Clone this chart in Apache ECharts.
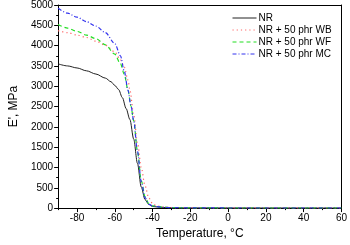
<!DOCTYPE html>
<html>
<head>
<meta charset="utf-8">
<script src="https://cdn.jsdelivr.net/npm/echarts@6/dist/echarts.min.js"></script>
<style>
  html, body { margin: 0; padding: 0; background: #fff; }
  #chart { width: 350px; height: 245px; }
</style>
</head>
<body>
<div id="chart"></div>
<script>
// temperature (°C) and storage modulus E' (MPa)
const tempNR = [-90, -85, -80, -75, -70, -65, -62, -60, -58, -56, -54, -52, -50, -48, -46, -44, -42, -40, -35, -30, -20, 0, 20, 40, 60]
const nr = [3550, 3500, 3450, 3380, 3300, 3200, 3110, 3020, 2920, 2720, 2450, 2180, 1700, 1100, 520, 210, 90, 40, 15, 10, 5, 3, 2, 2, 2]

const tempWB = [-90, -85, -80, -75, -70, -65, -60, -57, -55, -53, -52, -50, -48, -46, -44, -42, -40, -38, -35, -30, -20, 0, 20, 40, 60]
const wb = [4370, 4320, 4260, 4200, 4110, 4010, 3850, 3650, 3470, 3150, 2900, 2300, 1600, 1000, 550, 250, 110, 60, 30, 15, 8, 5, 4, 3, 3]

const tempWF = [-90, -85, -80, -75, -70, -65, -60, -57, -55, -53, -51.5, -50, -48, -46, -44, -42, -40, -35, -30, -20, 0, 20, 40, 60]
const wf = [4520, 4430, 4350, 4260, 4170, 4020, 3790, 3550, 3300, 2900, 2520, 2150, 1400, 680, 280, 110, 55, 25, 12, 6, 3, 3, 3, 3]

const tempMC = [-90, -85, -80, -75, -70, -65, -60, -57, -55, -53, -51.5, -50, -48, -46, -44, -42, -40, -35, -30, -20, 0, 20, 40, 60]
const mc = [4920, 4800, 4700, 4590, 4480, 4320, 4050, 3750, 3370, 2900, 2540, 2150, 1400, 650, 260, 100, 50, 20, 10, 5, 3, 3, 3, 3]

const xLabels = [-80, -60, -40, -20, 0, 20, 40, 60]
const xMinor = [-90, -70, -50, -30, -10, 10, 30, 50]

const names = ['NR', 'NR + 50 phr WB', 'NR + 50 phr WF', 'NR + 50 phr MC']

const pair = (xs, ys) => xs.map((x, i) => [x, ys[i]])

const chart = echarts.init(document.getElementById('chart'))

const tickFont = { color: '#000', fontSize: 10, fontFamily: '"Liberation Sans Narrow", "Liberation Sans", Arial, sans-serif' }

const option = {
  animation: false,
  textStyle: { fontFamily: '"Liberation Sans", Arial, sans-serif' },
  grid: { left: 46, right: 6, top: 4, bottom: 33 },
  legend: {
    data: names,
    orient: 'vertical',
    left: 227,
    top: 8,
    itemWidth: 24,
    itemHeight: 8,
    itemGap: 2,
    itemStyle: { opacity: 0 },
    lineStyle: { width: 1 },
    textStyle: { color: '#000', fontSize: 10, padding: [0, 0, 0, -3] }
  },
  xAxis: [
    {
      type: 'value', min: -90, max: 60,
      name: 'Temperature, °C', nameLocation: 'middle', nameGap: 18,
      nameTextStyle: { color: '#000', fontSize: 12 },
      axisLine: { onZero: false, lineStyle: { color: '#000', width: 1 } },
      axisTick: { length: 4, lineStyle: { color: '#000' }, customValues: xLabels },
      axisLabel: Object.assign({ margin: 5, customValues: xLabels }, tickFont),
      splitLine: { show: false }
    },
    {
      type: 'value', min: -90, max: 60, position: 'bottom',
      axisLine: { show: false, onZero: false },
      axisTick: { length: 2, lineStyle: { color: '#000' }, customValues: xMinor },
      axisLabel: { show: false },
      splitLine: { show: false }
    },
    {
      type: 'value', min: -90, max: 60, position: 'top',
      axisLine: { onZero: false, lineStyle: { color: '#000', width: 1 } },
      axisTick: { show: false },
      axisLabel: { show: false },
      splitLine: { show: false }
    }
  ],
  yAxis: [
    {
      type: 'value', min: 0, max: 5000, interval: 500,
      name: "E', MPa", nameLocation: 'middle', nameGap: 36,
      nameTextStyle: { color: '#000', fontSize: 12 },
      axisLine: { show: true, onZero: false, lineStyle: { color: '#000', width: 1 } },
      axisTick: { show: true, length: 4, lineStyle: { color: '#000' } },
      minorTick: { show: true, splitNumber: 2, length: 2, lineStyle: { color: '#000' } },
      axisLabel: Object.assign({ margin: 5, formatter: v => String(v) }, tickFont),
      splitLine: { show: false }
    },
    {
      type: 'value', min: 0, max: 5000, position: 'right',
      axisLine: { show: true, onZero: false, lineStyle: { color: '#000', width: 1 } },
      axisTick: { show: false },
      axisLabel: { show: false },
      splitLine: { show: false }
    }
  ],
  series: [
    {
      name: names[0], type: 'line', data: pair(tempNR, nr),
      symbol: 'none', smooth: 0.3, smoothMonotone: 'x',
      lineStyle: { color: '#222', width: 1 }, itemStyle: { color: '#222' }
    },
    {
      name: names[1], type: 'line', data: pair(tempWB, wb),
      symbol: 'none', smooth: 0.3, smoothMonotone: 'x',
      lineStyle: { color: '#ff6666', width: 1.2, type: [1.2, 3] }, itemStyle: { color: '#ff6666' }
    },
    {
      name: names[2], type: 'line', data: pair(tempWF, wf),
      symbol: 'none', smooth: 0.3, smoothMonotone: 'x',
      lineStyle: { color: '#22dd22', width: 1.2, type: [4, 3] }, itemStyle: { color: '#22dd22' }
    },
    {
      name: names[3], type: 'line', data: pair(tempMC, mc),
      symbol: 'none', smooth: 0.3, smoothMonotone: 'x',
      lineStyle: { color: '#3333ee', width: 1.2, type: [4, 2, 1, 2] }, itemStyle: { color: '#3333ee' }
    }
  ]
}

chart.setOption(option)
</script>
</body>
</html>
